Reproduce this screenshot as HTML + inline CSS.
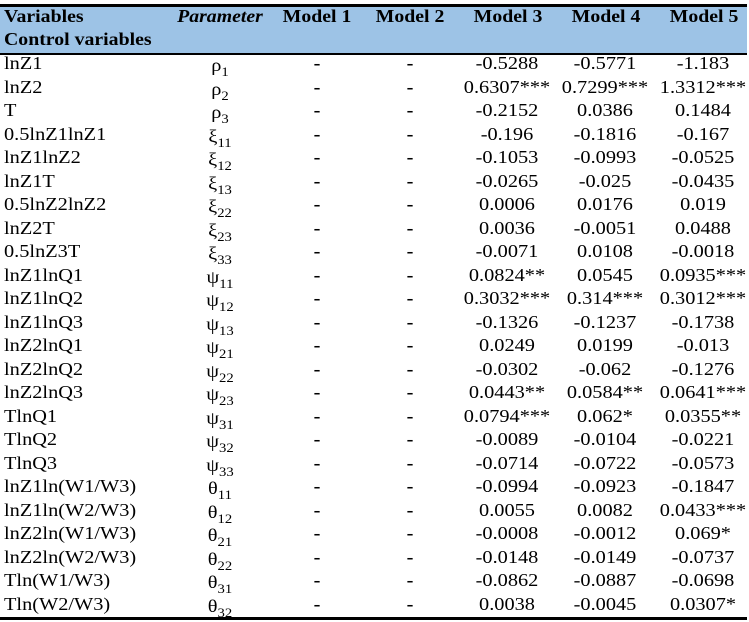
<!DOCTYPE html>
<html><head><meta charset="utf-8"><style>
body{margin:0;width:749px;height:622px;background:#fff;font-family:"Liberation Serif",serif;font-size:18px;color:#000;position:relative;overflow:hidden}
.hdr{position:absolute;left:0;top:4px;width:747px;height:46px;background:#9dc3e6;border-top:3px solid #000;border-bottom:2px solid #000}
.bot{position:absolute;left:0;top:617px;width:747px;height:0;border-top:3px solid #000}
.c{position:absolute;white-space:nowrap;transform-origin:0 0;transform:scaleX(1.13)}
.h{font-weight:bold;transform:scaleX(1.1)}
.m{transform:translateX(-50%) scaleX(1.13);transform-origin:50% 0}
.h.m{transform:translateX(-50%) scaleX(1.1)}
sub{font-size:13px;vertical-align:-5px}
</style></head><body>
<div class="hdr"></div>
<div class="c h" style="left:4px;top:6px">Variables</div>
<div class="c h" style="left:4px;top:29px">Control variables</div>
<div class="c h m" style="left:220px;top:6px;font-style:italic">Parameter</div>
<div class="c h m" style="left:317px;top:6px">Model 1</div>
<div class="c h m" style="left:410px;top:6px">Model 2</div>
<div class="c h m" style="left:508px;top:6px">Model 3</div>
<div class="c h m" style="left:606px;top:6px">Model 4</div>
<div class="c h m" style="left:704px;top:6px">Model 5</div>
<div id="rows"></div>
<div class="bot"></div>
<script>
const vars=["lnZ1","lnZ2","T","0.5lnZ1lnZ1","lnZ1lnZ2","lnZ1T","0.5lnZ2lnZ2","lnZ2T","0.5lnZ3T","lnZ1lnQ1","lnZ1lnQ2","lnZ1lnQ3","lnZ2lnQ1","lnZ2lnQ2","lnZ2lnQ3","TlnQ1","TlnQ2","TlnQ3","lnZ1ln(W1/W3)","lnZ1ln(W2/W3)","lnZ2ln(W1/W3)","lnZ2ln(W2/W3)","Tln(W1/W3)","Tln(W2/W3)"];
const params=[["ρ","1"],["ρ","2"],["ρ","3"],["ξ","11"],["ξ","12"],["ξ","13"],["ξ","22"],["ξ","23"],["ξ","33"],["ψ","11"],["ψ","12"],["ψ","13"],["ψ","21"],["ψ","22"],["ψ","23"],["ψ","31"],["ψ","32"],["ψ","33"],["θ","11"],["θ","12"],["θ","21"],["θ","22"],["θ","31"],["θ","32"]];
const m3=["-0.5288","0.6307***","-0.2152","-0.196","-0.1053","-0.0265","0.0006","0.0036","-0.0071","0.0824**","0.3032***","-0.1326","0.0249","-0.0302","0.0443**","0.0794***","-0.0089","-0.0714","-0.0994","0.0055","-0.0008","-0.0148","-0.0862","0.0038"];
const m4=["-0.5771","0.7299***","0.0386","-0.1816","-0.0993","-0.025","0.0176","-0.0051","0.0108","0.0545","0.314***","-0.1237","0.0199","-0.062","0.0584**","0.062*","-0.0104","-0.0722","-0.0923","0.0082","-0.0012","-0.0149","-0.0887","-0.0045"];
const m5=["-1.183","1.3312***","0.1484","-0.167","-0.0525","-0.0435","0.019","0.0488","-0.0018","0.0935***","0.3012***","-0.1738","-0.013","-0.1276","0.0641***","0.0355**","-0.0221","-0.0573","-0.1847","0.0433***","0.069*","-0.0737","-0.0698","0.0307*"];
const R=document.getElementById('rows');
function cell(txt,x,y,center,name,html,bold){const d=document.createElement('div');d.className='c'+(center?' m':'');d.style.left=x+'px';d.style.top=y+'px';if(bold)d.style.fontWeight='bold';if(html)d.innerHTML=txt;else d.textContent=txt;


R.appendChild(d);}
vars.forEach((v,i)=>{const y=53+i*23.5;
cell(v,4,y,false,'variable-label');
cell(params[i][0]+'<sub>'+params[i][1]+'</sub>',220,y+2,true,'parameter-symbol',true);
cell('-',317,y,true,'model1-value',false,true);
cell('-',410,y,true,'model2-value',false,true);
cell(m3[i],507,y,true,'model3-value');
cell(m4[i],605,y,true,'model4-value');
cell(m5[i],703,y,true,'model5-value');});
</script>
</body></html>
